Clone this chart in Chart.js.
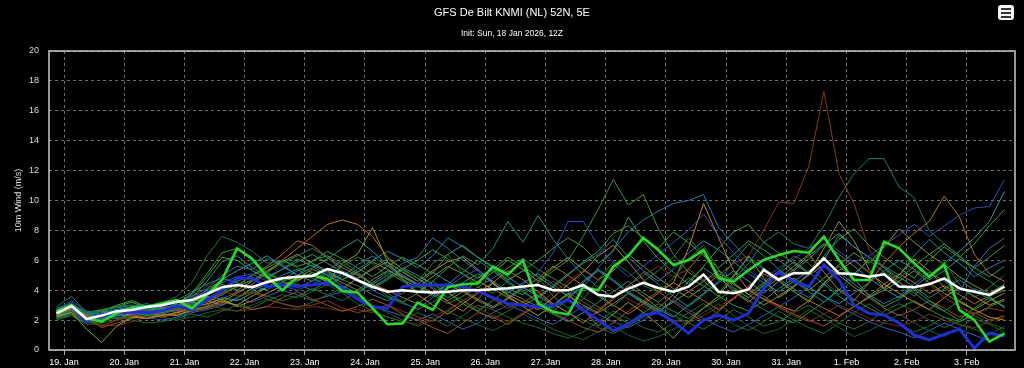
<!DOCTYPE html>
<html><head><meta charset="utf-8">
<script src="https://cdn.jsdelivr.net/npm/chart.js@4"></script>
<style>
html,body{margin:0;padding:0;background:#000;overflow:hidden}
#wrap{position:relative;width:1024px;height:368px;background:#000}
canvas{position:absolute;left:0;top:0}
#t1{position:absolute;top:6px;left:0;width:1024px;text-align:center;color:#fff;font:11px "Liberation Sans",Arial,sans-serif}
#t2{position:absolute;top:28px;left:0;width:1024px;text-align:center;color:#fff;font:8.5px "Liberation Sans",Arial,sans-serif}
#menu{position:absolute;left:998px;top:5px;width:16px;height:15px;background:#f4f4f4;border-radius:3px}
#menu span{position:absolute;left:3px;width:10px;height:2px;background:#333}
</style>
</head><body>
<div id="wrap">
<canvas id="c" width="1024" height="368"></canvas>
<div id="t1">GFS De Bilt KNMI (NL) 52N, 5E</div>
<div id="t2">Init: Sun, 18 Jan 2026, 12Z</div>
<div id="menu"><span style="top:3px"></span><span style="top:7px"></span><span style="top:11px"></span></div>
</div>
<script>
// x axis: days since 19 Jan 00:00, 6-hourly steps
const dayLabels = ['19. Jan','20. Jan','21. Jan','22. Jan','23. Jan','24. Jan','25. Jan','26. Jan','27. Jan','28. Jan','29. Jan','30. Jan','31. Jan','1. Feb','2. Feb','3. Feb'];
const firstStep = -0.125;
const stepDays = 0.25;
const yTicks = [0,2,4,6,8,10,12,14,16,18,20];

const ensMean = [2.45,2.94,2.07,2.3,2.6,2.68,2.88,3.0, 3.23,3.34,3.75,4.2,4.35,4.2,4.55,4.8, 4.9,4.95,5.42,5.15,4.68,4.23,3.9,4.0, 3.9,3.85,3.9,4.0,4.0,4.06,4.13,4.24, 4.35,4.0,4.0,4.35,3.7,3.57,4.1,4.5, 4.15,3.9,4.24,5.05,3.9,3.8,4.05,5.35, 4.7,5.15,5.13,6.13,5.13,5.08,4.9,5.06, 4.24,4.19,4.41,4.79,4.12,3.9,3.68,4.24];
const opRun = [2.6,3.0,2.1,1.9,2.47,2.8,2.9,3.13, 3.34,2.78,3.68,4.68,6.8,6.1,4.9,4.0, 4.85,5.0,4.75,3.95,3.85,2.8,1.72,1.78, 3.17,2.68,4.2,4.4,4.45,5.57,5.05,6.0, 3.12,2.56,2.38,4.2,4.0,5.57,6.3,7.5, 6.69,5.69,6.02,6.7,4.8,4.57,5.35,6.02, 6.35,6.62,6.51,7.58,6.02,4.68,4.68,7.24, 6.8,5.8,4.9,5.69,2.68,2.0,0.56,1.11];
const ctlRun = [2.56,2.94,1.9,2.23,2.45,2.56,2.5,2.63, 2.94,2.68,3.34,4.0,4.8,4.8,4.24,4.35, 4.26,4.35,4.5,4.18,3.4,2.9,2.8,4.24, 4.35,4.35,4.35,4.24,3.95,3.5,3.1,3.0, 2.9,3.0,3.34,2.68,2.0,1.28,1.75,2.35, 2.5,1.9,1.11,2.0,2.34,2.0,2.45,4.12, 5.2,4.57,4.24,5.7,4.68,3.0,2.45,2.34, 1.8,1.0,0.67,1.05,1.4,0.12,1.15,0.9];

const m01 = [2.6,3.2,2.4,2.6,2.9,3.0,2.7,3.1, 3.6,4.5,6.3,7.6,7.2,6.6,5.8,6.0, 5.5,5.2,4.8,5.6,6.2,5.8,4.9,5.3, 4.6,5.8,6.4,5.1,4.2,3.8,4.6,5.3, 4.9,3.6,2.8,3.4,4.7,5.9,5.2,4.3, 3.9,4.8,6.1,7.0,5.4,4.2,3.5,4.4, 5.2,6.3,5.8,4.6,3.7,4.9,6.2,5.5, 4.3,3.6,4.8,5.9,4.4,3.5,4.2,5.0];
const m02 = [2.3,2.8,2.2,2.0,2.4,2.7,2.9,2.6, 3.1,3.8,5.1,6.5,6.8,6.0,5.2,4.6, 4.9,6.0,6.3,5.7,5.1,4.4,3.6,3.2, 3.8,4.6,3.9,3.1,2.6,3.3,4.1,3.7, 4.5,5.3,6.0,7.6,9.4,11.4,9.7,10.4, 8.1,6.4,5.2,4.6,3.8,5.0,6.2,5.5, 4.7,3.9,3.2,4.4,5.6,4.8,3.6,2.9, 3.4,4.1,3.3,2.6,2.0,2.8,3.5,2.9];
const m03 = [2.9,3.6,2.5,2.7,2.5,2.8,2.6,2.4, 2.7,3.0,3.4,3.9,4.4,4.6,5.2,5.8, 6.3,6.8,6.2,5.3,4.8,5.5,6.1,5.4, 4.8,4.2,3.5,4.1,4.9,5.4,4.6,3.9, 3.3,2.8,3.5,4.2,3.6,2.9,3.8,4.6, 5.3,6.2,7.5,6.4,5.1,4.7,5.8,7.2, 7.9,7.1,6.8,8.3,10.2,11.8,12.8,12.8, 10.9,10.2,8.0,7.1,6.3,5.2,4.6,3.9];
const m04 = [2.4,2.6,1.9,1.6,2.0,2.3,2.5,2.4, 2.8,3.4,4.3,4.0,3.6,3.9,3.4,3.1, 2.9,3.0,3.3,2.8,2.5,2.7,3.0,2.6, 2.2,1.9,2.6,3.3,3.9,3.4,2.8,3.2, 3.8,4.6,3.9,3.2,2.7,3.5,4.3,5.0, 5.6,4.9,5.4,4.7,5.0,5.8,6.3,8.0, 9.9,9.8,12.3,17.3,11.8,9.8,6.7,5.5, 4.6,3.8,4.4,3.5,2.9,2.4,2.8,2.6];
const m05 = [2.5,2.9,2.3,2.1,2.5,2.7,2.4,2.8, 2.6,3.0,3.5,3.2,3.8,4.4,5.2,6.0, 6.8,7.6,8.4,8.7,8.4,7.6,6.2,5.4, 4.8,4.1,3.2,2.6,3.4,4.5,5.3,4.7, 3.9,3.1,2.5,1.8,2.6,3.4,4.3,3.6, 2.8,3.7,5.4,6.6,5.0,3.9,3.2,4.1, 4.8,5.6,6.4,5.2,4.0,3.3,4.5,5.8, 6.9,7.8,8.6,10.3,8.9,6.4,5.1,4.6];
const m06 = [2.2,2.5,1.4,0.5,1.6,2.2,2.1,2.4, 2.3,2.7,2.9,3.3,3.0,3.6,4.2,4.8, 4.6,5.2,4.5,5.8,6.4,8.2,5.9,4.8, 3.7,3.0,2.4,3.1,3.8,4.5,3.6,2.9, 2.3,3.0,3.8,2.7,1.6,2.4,3.2,2.5, 1.7,0.8,1.9,2.8,3.6,4.9,6.3,4.8, 3.5,4.2,5.1,6.8,8.6,7.3,5.4,4.1, 5.0,6.1,5.3,4.2,3.3,2.7,2.2,2.0];
const m07 = [2.7,3.3,2.6,2.4,2.6,2.5,2.8,2.7, 3.0,3.3,3.9,4.5,4.9,5.1,4.6,4.3, 4.0,4.4,4.9,5.2,4.6,4.0,3.5,3.1, 2.8,3.5,4.2,4.9,5.4,4.6,3.9,4.4, 5.2,6.5,8.6,8.6,7.0,5.8,4.9,5.6, 6.4,7.2,8.0,9.1,7.6,6.5,5.3,4.7, 5.5,6.1,6.8,7.4,6.6,5.9,6.3,7.0, 7.7,8.4,7.6,8.3,9.0,9.5,9.6,11.4];
const m08 = [2.8,3.1,2.4,2.2,2.8,3.0,2.7,2.9, 3.2,3.6,4.1,5.0,5.6,5.4,6.1,5.7, 5.0,4.6,5.3,6.0,5.2,4.4,5.0,5.8, 6.2,7.5,6.8,6.0,5.3,4.4,3.8,4.5, 5.1,4.4,3.6,4.2,5.5,6.7,7.9,8.7, 9.3,9.8,10.0,10.4,8.2,7.1,6.0,5.4, 4.8,4.1,3.5,4.3,5.2,4.4,3.7,3.1, 3.6,4.4,5.2,4.6,3.9,5.6,6.8,7.5];
const m09 = [2.4,2.7,2.0,2.4,2.9,2.6,2.3,2.5, 2.9,3.5,4.6,5.9,6.3,5.5,4.9,5.4, 6.1,5.6,5.0,4.3,3.8,4.5,5.2,4.6, 3.9,4.6,5.5,6.3,5.7,6.8,8.6,7.2, 9.0,7.4,6.1,5.0,4.2,3.5,4.3,5.2, 4.4,3.6,2.9,3.7,4.6,5.9,7.1,6.3, 5.4,4.6,3.9,3.2,4.0,5.1,6.0,5.2, 4.5,3.8,3.1,2.6,3.3,4.1,3.6,2.8];
const m10 = [2.1,2.4,1.8,1.9,2.2,2.0,1.8,1.9, 2.1,2.4,2.2,2.6,3.0,2.8,3.3,3.7, 3.5,3.9,4.4,3.8,3.1,2.6,2.2,1.9, 2.5,2.1,1.6,2.3,3.0,2.7,2.2,1.8, 1.5,1.1,0.8,1.2,1.9,2.6,2.1,1.5, 1.2,1.8,2.5,3.1,2.4,1.7,1.3,1.9, 2.6,2.0,1.5,1.1,1.8,2.5,3.1,2.4, 1.8,1.2,1.6,2.2,1.7,1.4,1.0,1.6];
const m11 = [2.6,2.9,2.5,2.7,2.9,3.2,2.8,2.6, 2.9,3.3,3.7,4.1,4.6,5.0,5.5,6.0, 5.6,5.9,6.6,6.1,5.5,4.9,5.6,6.2, 5.7,5.1,6.4,7.0,6.2,5.5,4.7,5.3, 6.0,6.8,7.5,6.9,5.8,6.6,8.9,7.3, 6.1,5.2,4.4,5.6,6.8,7.9,8.4,7.2, 6.5,5.8,5.1,6.3,7.4,8.1,7.0,6.2, 5.5,4.8,6.0,6.9,6.2,7.1,8.3,9.4];
const m12 = [2.3,2.7,2.1,2.4,2.6,2.3,2.1,2.3, 2.5,2.8,3.1,3.4,2.9,3.3,3.8,4.3, 4.7,5.0,4.6,4.1,4.8,5.4,5.9,5.2, 4.6,5.3,5.9,6.2,5.4,4.5,3.7,3.2, 2.7,3.5,4.4,5.2,6.3,7.0,5.9,4.7, 3.9,4.5,6.8,9.8,7.5,5.3,4.0,3.4, 3.0,2.6,3.3,4.5,5.3,6.0,5.2,4.4, 3.8,3.2,2.7,3.5,4.2,3.6,3.0,3.4];
const m13 = [2.5,2.8,2.2,1.5,1.8,2.1,2.3,2.2, 2.4,2.6,2.8,3.2,3.0,2.7,2.9,3.5, 3.9,3.4,3.0,2.6,2.9,3.4,3.0,2.4, 2.0,1.5,1.1,1.8,2.5,2.2,1.7,2.4, 3.0,2.5,2.0,1.5,1.2,1.8,2.6,3.3, 3.9,3.2,2.5,1.9,2.6,3.5,4.2,3.6, 2.9,2.4,2.0,1.6,2.2,2.9,3.5,2.8, 2.3,2.7,3.3,2.8,2.2,2.5,2.0,2.3];
const m14 = [2.2,2.6,2.3,2.5,2.7,2.9,3.1,2.8, 3.0,3.2,3.6,3.4,3.9,4.3,4.0,4.7, 5.3,5.7,5.2,4.7,5.4,6.0,6.6,6.1, 5.5,6.3,7.5,6.9,6.2,5.6,4.9,4.2, 3.6,4.3,5.1,5.8,6.4,7.4,6.2,5.3, 4.6,5.4,6.5,7.3,6.7,5.9,5.1,4.5, 3.9,4.6,5.3,6.0,7.7,6.9,6.2,5.6, 5.0,6.3,7.4,6.5,5.8,4.9,5.5,6.0];
const m15 = [2.4,2.5,1.9,2.1,2.5,2.8,3.0,2.7, 2.5,2.9,3.3,3.8,4.2,4.7,5.1,4.6, 4.2,4.6,5.1,4.7,4.3,3.7,3.3,3.8, 4.3,3.7,3.1,3.6,4.2,4.8,5.5,6.1, 5.4,4.8,4.2,3.5,2.9,2.3,1.8,2.5, 3.1,2.6,2.1,2.8,3.4,4.0,3.3,2.7, 2.2,1.8,2.5,3.2,4.1,3.4,2.8,2.3, 2.8,3.3,2.7,2.2,1.9,2.4,2.9,3.3];
const m16 = [2.0,2.3,1.7,1.8,2.0,2.2,2.4,2.2, 2.0,2.2,2.5,2.7,2.6,3.0,3.4,3.1, 2.8,3.2,3.7,4.1,3.6,3.0,2.5,2.0, 1.6,2.0,2.6,2.1,1.7,1.3,1.8,2.4, 1.9,1.4,1.0,0.7,1.2,1.6,1.0,0.6, 0.9,1.4,1.9,2.5,3.1,2.3,1.6,1.1, 1.4,2.0,2.7,2.1,1.5,0.9,1.3,1.8, 2.4,1.8,1.3,0.9,1.5,2.1,1.7,1.2];
const m17 = [2.5,3.0,2.6,2.3,2.1,2.4,2.6,2.9, 3.3,3.9,4.4,4.8,4.5,4.0,4.4,5.0, 5.4,4.8,4.3,4.9,5.7,6.3,5.6,4.9, 4.3,3.6,4.4,5.2,6.0,5.3,4.5,3.9, 3.2,2.6,3.4,4.5,5.3,4.6,3.8,3.1, 2.5,3.4,4.6,5.5,4.8,4.1,3.5,4.3, 5.1,5.9,5.2,4.4,3.6,2.9,3.5,4.2, 4.9,4.2,3.5,4.1,4.7,4.0,3.4,2.9];
const m18 = [2.4,2.6,2.0,1.7,1.6,1.9,2.2,2.3, 2.5,2.7,2.9,2.8,2.6,2.7,2.9,2.8, 2.7,2.9,2.8,2.6,2.7,2.5,2.2,1.9, 1.7,2.2,2.7,3.3,2.8,2.3,1.9,2.5, 3.1,3.8,4.6,5.3,4.7,4.0,3.4,2.9, 2.4,2.0,1.8,2.3,2.9,3.5,4.1,3.4, 2.8,2.3,1.9,2.4,3.0,2.6,2.1,1.8, 1.6,1.9,2.4,2.0,1.7,1.5,1.9,2.2];
const m19 = [2.3,2.6,2.1,2.3,2.6,2.9,2.7,2.5, 2.7,3.1,3.8,4.4,4.0,4.6,5.3,5.9, 6.4,5.8,5.3,4.7,5.2,5.9,5.4,4.7, 4.2,4.9,5.6,5.1,4.5,5.2,6.0,5.4, 4.6,5.5,6.2,5.4,4.7,5.3,6.4,5.6, 4.8,4.1,3.5,4.2,5.0,4.4,3.7,4.5, 5.3,4.7,4.0,4.8,5.7,6.5,5.8,6.9, 8.1,7.2,6.4,5.7,4.9,4.3,3.8,4.4];
const m20 = [2.1,2.3,1.8,2.2,2.3,2.5,2.4,2.6, 2.8,3.2,3.0,3.5,3.3,3.8,4.2,4.5, 4.4,4.0,4.6,5.1,4.7,4.2,4.8,5.5, 5.0,4.4,3.8,4.5,5.1,4.6,3.9,3.4, 2.9,2.4,1.9,2.5,3.2,3.9,4.6,3.8, 3.2,4.0,4.8,4.3,3.6,3.0,2.6,3.3, 4.1,4.8,4.2,3.6,3.1,3.8,4.5,5.3, 6.0,5.4,4.7,5.3,6.1,5.5,4.9,5.6];
const m21 = [2.3,2.5,2.0,2.1,2.3,2.4,2.2,2.0, 2.2,2.5,2.7,3.0,3.4,3.2,3.6,4.0, 3.7,3.3,3.6,3.9,3.5,3.0,2.6,2.3, 2.0,2.4,1.9,1.4,1.8,2.5,3.0,2.6, 2.1,1.7,2.3,2.9,2.4,1.9,1.5,2.0, 2.6,3.3,2.7,2.1,1.6,1.2,1.7,2.3, 2.9,3.5,4.2,3.6,2.9,2.4,1.9,1.5, 1.2,0.8,1.3,1.8,1.4,1.0,0.6,1.1];
const m22 = [2.5,2.7,2.4,2.6,2.4,2.2,2.5,2.7, 3.0,3.4,3.2,3.7,4.3,5.0,5.6,6.4, 7.3,7.0,6.2,5.5,5.0,4.4,4.0,3.5, 3.1,3.8,4.4,3.9,3.3,2.8,3.4,4.1, 4.8,5.6,5.0,4.3,3.7,3.0,2.4,3.1, 3.8,4.5,3.9,3.3,2.7,3.4,4.3,5.1, 4.6,3.9,3.3,2.8,2.3,2.9,3.6,4.4, 5.1,4.5,3.8,4.3,3.7,3.1,3.6,4.0];
const m23 = [2.7,3.0,2.4,2.6,3.0,3.3,2.9,2.7, 3.1,3.7,4.9,6.2,6.0,5.3,4.8,5.4, 5.9,6.4,5.8,5.2,4.6,4.1,4.7,5.4, 6.0,6.7,6.1,5.4,4.8,5.4,6.2,5.6, 4.9,4.2,5.0,5.9,6.6,7.8,8.3,7.5, 6.8,7.9,7.2,6.3,5.5,6.4,7.3,6.7, 6.0,5.3,6.1,7.0,7.8,6.9,6.2,5.5, 4.8,5.6,6.4,7.1,6.3,5.5,6.2,7.0];
const m24 = [2.2,2.4,2.0,2.3,2.1,2.4,2.6,2.4, 2.3,2.6,2.8,3.1,3.5,3.9,3.6,3.3, 3.6,4.1,3.7,3.3,3.9,4.4,3.8,3.2, 2.7,3.2,3.8,3.3,2.6,2.1,2.6,3.2, 3.7,3.1,2.5,2.0,1.5,1.1,1.6,2.2, 2.8,2.3,1.8,1.4,2.0,2.7,2.2,1.6, 1.9,2.5,3.0,2.4,1.8,1.4,1.9,2.6, 3.1,2.6,2.0,1.5,1.9,2.3,1.8,1.4];
const m25 = [2.6,2.8,2.2,2.0,2.3,2.6,2.5,2.8, 3.0,3.4,4.0,4.7,5.3,5.8,6.3,5.6, 5.0,5.5,6.1,6.8,7.4,6.6,5.7,5.0, 4.4,5.2,4.6,4.0,3.4,2.9,3.5,4.2, 3.6,3.0,3.7,4.6,5.4,4.7,3.9,3.3, 2.7,2.2,3.0,3.8,4.5,5.3,4.6,3.8, 4.6,5.4,6.3,7.1,6.4,5.6,4.8,4.1, 3.5,4.2,5.0,5.8,6.6,7.5,8.6,10.6];
const m26 = [2.4,2.8,2.3,2.2,2.4,2.7,2.5,2.3, 2.5,2.8,3.3,3.0,3.5,4.1,4.6,4.3, 4.8,5.4,5.0,4.5,4.0,4.7,5.3,4.9, 4.4,3.8,3.3,3.9,4.6,4.1,3.5,3.0, 3.5,4.2,3.6,3.0,2.5,3.1,3.8,3.2, 2.6,3.2,3.9,4.6,5.3,4.5,3.7,3.0, 3.6,4.3,5.0,5.7,5.0,4.2,3.5,4.0, 4.6,5.3,4.5,3.8,3.2,2.7,3.3,3.8];

const members = [m01,m02,m03,m04,m05,m06,m07,m08,m09,m10,m11,m12,m13,m14,m15,m16,m17,m18,m19,m20,m21,m22,m23,m24,m25,m26];
const memberColors = ['#1e7b34','#2f9e2f','#1f7f6a','#8c3a1c','#c0701e','#9a9a22','#2b4fc0','#2a78b0','#1a9080','#1d6b2a','#3aa03a','#c8822a','#a0521d','#2088a8','#2e8b3e','#19602c','#1f8f8f','#7a2a18','#7f9a2a','#22977a','#3060b8','#b8661c','#40a040','#256f3a','#2a9aa0','#8a8a30'];

const toXY = vals => vals.map((v, i) => ({x: firstStep + i * stepDays, y: v}));

const datasets = [
  {data: toXY(ensMean), borderColor: '#ffffff', borderWidth: 2.5, order: 0},
  {data: toXY(opRun), borderColor: '#2bd92b', borderWidth: 2.6, order: 1},
  {data: toXY(ctlRun), borderColor: '#1f2fd0', borderWidth: 3, order: 2}
];
members.forEach((m, k) => datasets.push({data: toXY(m), borderColor: memberColors[k], borderWidth: 1, order: 3}));
datasets.forEach(d => { d.pointRadius = 0; d.tension = 0; d.fill = false; });

const frame = {
  id: 'frame',
  afterDatasetsDraw(chart) {
    const {ctx, chartArea: a} = chart;
    ctx.save();
    ctx.strokeStyle = '#c8c8c8';
    ctx.lineWidth = 1.5;
    ctx.strokeRect(a.left, a.top, a.right - a.left, a.bottom - a.top);
    ctx.restore();
  }
};

const gridColor = 'rgba(200,200,200,0.55)';
new Chart(document.getElementById('c'), {
  type: 'line',
  data: {datasets},
  plugins: [frame],
  options: {
    responsive: false, animation: false, devicePixelRatio: 1,
    layout: {padding: {top: 51, right: 9, bottom: 0, left: 0}},
    plugins: {legend: {display: false}, tooltip: {enabled: false}, title: {display: false}},
    scales: {
      x: {
        type: 'linear', min: -0.25, max: 15.8,
        afterBuildTicks: s => { s.ticks = dayLabels.map((_, i) => ({value: i})); },
        afterFit: s => { s.height = 18; },
        ticks: {callback: v => dayLabels[v] ?? '', color: '#ffffff', font: {family: 'Liberation Sans', size: 9}, padding: 2, maxRotation: 0, autoSkip: false},
        grid: {color: gridColor, tickColor: '#aaaaaa', tickLength: 5, drawTicks: true},
        border: {display: false, dash: [3, 3]}
      },
      y: {
        min: 0, max: 20,
        afterBuildTicks: s => { s.ticks = yTicks.map(v => ({value: v})); },
        afterFit: s => { s.width = 49; },
        ticks: {color: '#dddddd', font: {family: 'Liberation Sans', size: 9}, padding: 10},
        grid: {color: gridColor, drawTicks: false},
        border: {display: false, dash: [3, 3]},
        title: {display: true, text: '10m Wind (m/s)', color: '#dddddd', font: {family: 'Liberation Sans', size: 9}, padding: {top: 13, bottom: 0}}
      }
    }
  }
});
</script>
</body></html>
